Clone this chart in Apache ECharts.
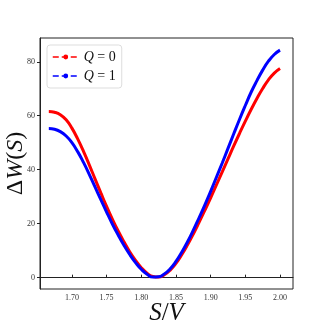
<!DOCTYPE html>
<html>
<head>
<meta charset="utf-8">
<script src="https://cdn.jsdelivr.net/npm/echarts@6/dist/echarts.min.js"></script>
<style>
  html, body { margin: 0; padding: 0; background: #fff; }
</style>
</head>
<body>
<div id="chart" style="width:325px;height:325px;"></div>
<script>
  // S/V values
  var sv = [1.6667, 1.675, 1.6833, 1.6917, 1.70, 1.7083, 1.7167, 1.725, 1.7333, 1.7417,
            1.75, 1.7583, 1.7667, 1.775, 1.7833, 1.7917, 1.80, 1.8083, 1.8167, 1.825,
            1.8333, 1.8417, 1.85, 1.8583, 1.8667, 1.875, 1.8833, 1.8917, 1.90, 1.9083,
            1.9167, 1.925, 1.9333, 1.9417, 1.95, 1.9583, 1.9667, 1.975, 1.9833, 1.9917, 2.0];
  // Delta W for Q = 0
  var q0 = [61.6, 61.3, 60.4, 58.5, 55.4, 51.4, 46.8, 41.8, 36.6, 31.4,
            26.4, 21.7, 17.3, 13.3, 9.6, 6.4, 3.7, 1.7, 0.4, 0.2,
            1.1, 2.8, 5.3, 8.5, 12.2, 16.2, 20.5, 25.0, 29.6, 34.4,
            39.2, 44.0, 48.8, 53.5, 58.0, 62.3, 66.4, 70.1, 73.3, 75.8, 77.5];
  // Delta W for Q = 1
  var q1 = [55.3, 55.0, 54.1, 52.5, 50.0, 46.7, 42.7, 38.3, 33.6, 28.9,
            24.3, 19.9, 15.8, 12.0, 8.6, 5.6, 3.1, 1.3, 0.2, 0.3,
            1.4, 3.3, 6.0, 9.4, 13.3, 17.6, 22.2, 27.0, 32.0, 37.2,
            42.5, 47.9, 53.3, 58.7, 63.8, 68.7, 73.0, 76.9, 80.2, 82.7, 84.3];
  var xTicks = [1.70, 1.75, 1.80, 1.85, 1.90, 1.95, 2.00];
  var yTicks = [0, 20, 40, 60, 80];

  var serif = 'Liberation Serif';
  function pairs(ys) {
    return sv.map(function (x, i) { return [x, ys[i]]; });
  }

  var chart = echarts.init(document.getElementById('chart'));
  var option = {
    animation: false,
    grid: {
      left: 40, right: 32, top: 38, bottom: 36,
      outerBoundsMode: 'none',
      containLabel: false,
      show: true,
      borderColor: '#222',
      borderWidth: 1
    },
    legend: {
      left: 47, top: 45,
      orient: 'vertical',
      itemWidth: 26,
      itemHeight: 6,
      itemGap: 5,
      padding: [5, 6, 5, 5],
      borderColor: '#ddd',
      borderWidth: 1,
      borderRadius: 3,
      lineStyle: { type: 'dashed', width: 1.5 },
      formatter: function (name) {
        return '{i|Q} = ' + name.split('=')[1];
      },
      textStyle: {
        fontFamily: serif, fontSize: 14, color: '#111',
        rich: { i: { fontFamily: serif, fontStyle: 'italic', fontSize: 14, color: '#111' } }
      },
      data: ['Q=0', 'Q=1']
    },
    xAxis: {
      type: 'value',
      min: 1.654, max: 2.0187,
      name: '{i|S}{u|/}{i|V}',
      nameLocation: 'middle',
      nameGap: 12,
      nameMoveOverlap: false,
      nameTextStyle: {
        rich: {
          i: { fontFamily: serif, fontStyle: 'italic', fontSize: 25, color: '#111' },
          u: { fontFamily: serif, fontSize: 25, color: '#111' }
        }
      },
      splitLine: { show: false },
      axisLine: { lineStyle: { color: '#222' } },
      axisTick: { inside: true, length: 3, customValues: xTicks, lineStyle: { color: '#222' } },
      axisLabel: {
        customValues: xTicks,
        fontFamily: serif, fontSize: 8, color: '#333', margin: 5,
        formatter: function (v) { return v.toFixed(2); }
      }
    },
    yAxis: {
      type: 'value',
      min: -4.2, max: 88.8,
      name: '{u|Δ}{i|W}{u|(}{i|S}{u|)}',
      nameLocation: 'middle',
      nameRotate: 90,
      nameGap: 12,
      nameMoveOverlap: false,
      nameTextStyle: {
        rich: {
          i: { fontFamily: serif, fontStyle: 'italic', fontSize: 24, color: '#111' },
          u: { fontFamily: serif, fontSize: 24, color: '#111' }
        }
      },
      splitLine: { show: false },
      axisLine: { lineStyle: { color: '#222' } },
      axisTick: { length: 3, customValues: yTicks, lineStyle: { color: '#222' } },
      axisLabel: {
        customValues: yTicks,
        fontFamily: serif, fontSize: 8, color: '#333', margin: 5
      }
    },
    series: [
      {
        name: 'Q=0', type: 'line', data: pairs(q0),
        color: '#ff0000', smooth: true,
        symbol: 'circle', symbolSize: 3, showSymbol: false,
        lineStyle: { width: 3 }
      },
      {
        name: 'Q=1', type: 'line', data: pairs(q1),
        color: '#0000ff', smooth: true,
        symbol: 'circle', symbolSize: 3, showSymbol: false,
        lineStyle: { width: 3 }
      }
    ]
  };
  chart.setOption(option);
</script>
</body>
</html>
